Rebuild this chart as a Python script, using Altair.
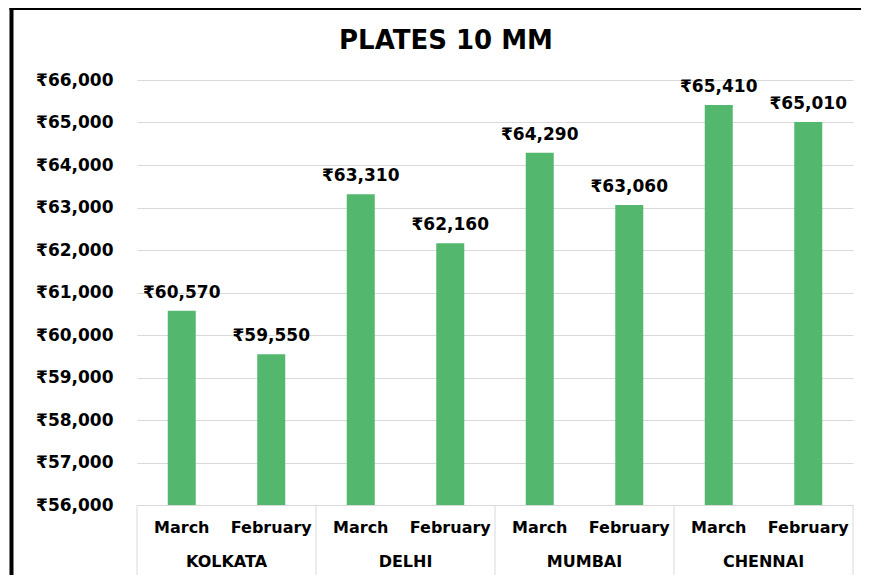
import altair as alt
import pandas as pd

cities = ["KOLKATA", "DELHI", "MUMBAI", "CHENNAI"]
months = ["March", "February"]
march = [60570, 63310, 64290, 65410]
february = [59550, 62160, 63060, 65010]
y_ticks = [56000, 57000, 58000, 59000, 60000, 61000, 62000, 63000, 64000, 65000, 66000]

GREEN = "#53b86e"
FONT = "DejaVu Sans"
GRID = "#d9d9d9"

rows = []
for ci, city in enumerate(cities):
    for mi, (month, vals) in enumerate(zip(months, [march, february])):
        v = vals[ci]
        rows.append({"city": city, "month": month, "value": v,
                     "pos": ci * 2 + mi + 0.5, "label": "₹{:,}".format(v)})
df = pd.DataFrame(rows)
cdf = pd.DataFrame({"city": cities, "pos": [i * 2 + 1 for i in range(len(cities))]})
sdf = pd.DataFrame({"pos": [i * 2 for i in range(len(cities) + 1)]})

W, H = 716, 425
xs = alt.Scale(domain=[0, 2 * len(cities)], nice=False, zero=False, padding=0)
ys = alt.Scale(domain=[y_ticks[0], y_ticks[-1]], nice=False, zero=False, padding=0)

X = alt.X("pos:Q", scale=xs, axis=None)
YAX = alt.Axis(values=y_ticks, labelExpr="'₹' + format(datum.value, ',')",
               domain=False, ticks=False, gridColor=GRID, gridWidth=1,
               labelFont=FONT, labelFontSize=17, labelFontWeight="bold",
               labelColor="black", labelPadding=24, title="")
Y = alt.Y("value:Q", scale=ys, axis=YAX)

base = alt.Chart(df)
bars = base.mark_bar(color=GREEN, size=28).encode(x=X, y=Y, y2=alt.datum(y_ticks[0]))
labels = base.mark_text(dy=-13, baseline="alphabetic", font=FONT, fontSize=17,
                        fontWeight="bold", color="black").encode(
    x=X, y=Y, text="label:N")
mlab = base.mark_text(baseline="alphabetic", font=FONT, fontSize=16,
                      fontWeight="bold", color="black").encode(
    x=X, y=alt.value(453), text="month:N")
clab = alt.Chart(cdf).mark_text(baseline="alphabetic", font=FONT, fontSize=16,
                                fontWeight="bold", color="black").encode(
    x=X, y=alt.value(487), text="city:N")
seps = alt.Chart(sdf).mark_rule(color=GRID, strokeWidth=1).encode(
    x=X, y=alt.value(H), y2=alt.value(H + 75))
one = pd.DataFrame({"t": ["PLATES 10 MM"]})
title = alt.Chart(one).mark_text(font=FONT, fontSize=26, fontWeight="bold",
                                 color="black", baseline="alphabetic").encode(
    x=alt.value(309), y=alt.value(-31), text="t:N")
frame_left = alt.Chart(one).mark_rule(color="black", strokeWidth=4).encode(
    x=alt.value(-125.5), y=alt.value(-73), y2=alt.value(H + 80))
frame_top = alt.Chart(one).mark_rule(color="black", strokeWidth=4).encode(
    x=alt.value(-127.5), x2=alt.value(760), y=alt.value(-72))

chart = alt.layer(seps, bars, labels, mlab, clab, title, frame_left, frame_top).properties(
    width=W, height=H, autosize="none", background="white",
    padding={"left": 129, "top": 72, "right": 8, "bottom": 70},
).configure_view(strokeOpacity=0)

chart.save("out.html", embed_options={"renderer": "svg", "actions": False})
